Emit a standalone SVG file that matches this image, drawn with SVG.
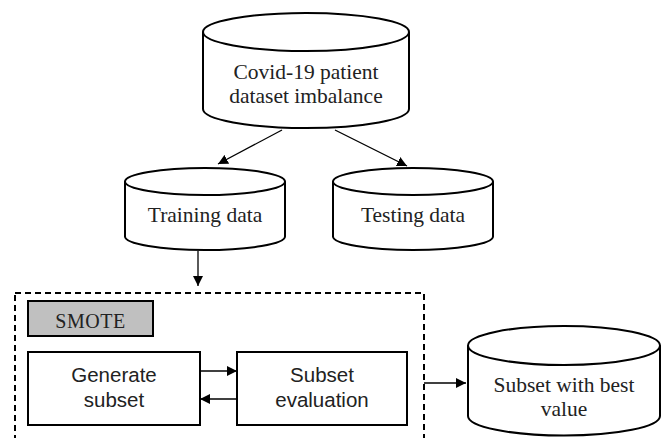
<svg xmlns="http://www.w3.org/2000/svg" width="663" height="438" viewBox="0 0 663 438">
<style>
.cyl{fill:#fff;stroke:#000;stroke-width:2}
.box{fill:#fff;stroke:#000;stroke-width:2}
.serif{font-family:"Liberation Serif","Times New Roman",serif;font-size:21.5px;fill:#222;text-anchor:middle}
.sans{font-family:"Liberation Sans",Arial,sans-serif;font-size:20.5px;fill:#222;text-anchor:middle}
.conn{stroke:#000;stroke-width:1.3;fill:none;marker-end:url(#ah)}
</style>
<defs>
<marker id="ah" viewBox="0 0 10 10" refX="10" refY="5" markerWidth="10" markerHeight="10" markerUnits="userSpaceOnUse" orient="auto">
<path d="M0,0 L10,5 L0,10 Z" fill="#000"/>
</marker>
</defs>
<rect width="663" height="438" fill="#fff"/>
<g id="dataset">
<path class="cyl" d="M203,32 L203,109 A103,19 0 0 0 409,109 L409,32"/>
<ellipse class="cyl" cx="306" cy="32" rx="103" ry="19"/>
<text class="serif" x="306" y="79">Covid-19 patient</text>
<text class="serif" x="306" y="102.5">dataset imbalance</text>
</g>
<g id="training">
<path class="cyl" d="M125,181.5 L125,236.5 A80,13.5 0 0 0 285,236.5 L285,181.5"/>
<ellipse class="cyl" cx="205" cy="181.5" rx="80" ry="13.5"/>
<text class="serif" x="205" y="222">Training data</text>
</g>
<g id="testing">
<path class="cyl" d="M333,181.5 L333,236.5 A80,13.5 0 0 0 493,236.5 L493,181.5"/>
<ellipse class="cyl" cx="413" cy="181.5" rx="80" ry="13.5"/>
<text class="serif" x="413" y="222">Testing data</text>
</g>
<g id="smote-group">
<rect x="15" y="293" width="409" height="160" fill="none" stroke="#000" stroke-width="2" stroke-dasharray="6,4"/>
</g>
<g id="smote">
<rect x="28" y="301" width="125" height="35" fill="#c0c0c0" stroke="#000" stroke-width="2"/>
<text class="serif" x="90.5" y="328" style="font-size:20px;letter-spacing:0.5px">SMOTE</text>
</g>
<g id="generate">
<rect class="box" x="28" y="352" width="172" height="73"/>
<text class="sans" x="114" y="382">Generate</text>
<text class="sans" x="114" y="407">subset</text>
</g>
<g id="evaluation">
<rect class="box" x="237" y="352" width="170" height="73"/>
<text class="sans" x="322" y="382">Subset</text>
<text class="sans" x="322" y="407">evaluation</text>
</g>
<g id="result">
<path class="cyl" d="M468,345.5 L468,416 A96,19.5 0 0 0 660,416 L660,345.5"/>
<ellipse class="cyl" cx="564" cy="345.5" rx="96" ry="19.5"/>
<text class="serif" x="564" y="392">Subset with best</text>
<text class="serif" x="564" y="415.5">value</text>
</g>
<g id="connectors">
<line class="conn" x1="282" y1="130" x2="218" y2="164"/>
<line class="conn" x1="335" y1="130" x2="407" y2="166"/>
<line class="conn" x1="198" y1="251" x2="198" y2="286"/>
<line class="conn" x1="200" y1="371" x2="237" y2="371"/>
<line class="conn" x1="237" y1="399" x2="200" y2="399"/>
<line class="conn" x1="424" y1="383" x2="466" y2="383"/>
</g>
</svg>
